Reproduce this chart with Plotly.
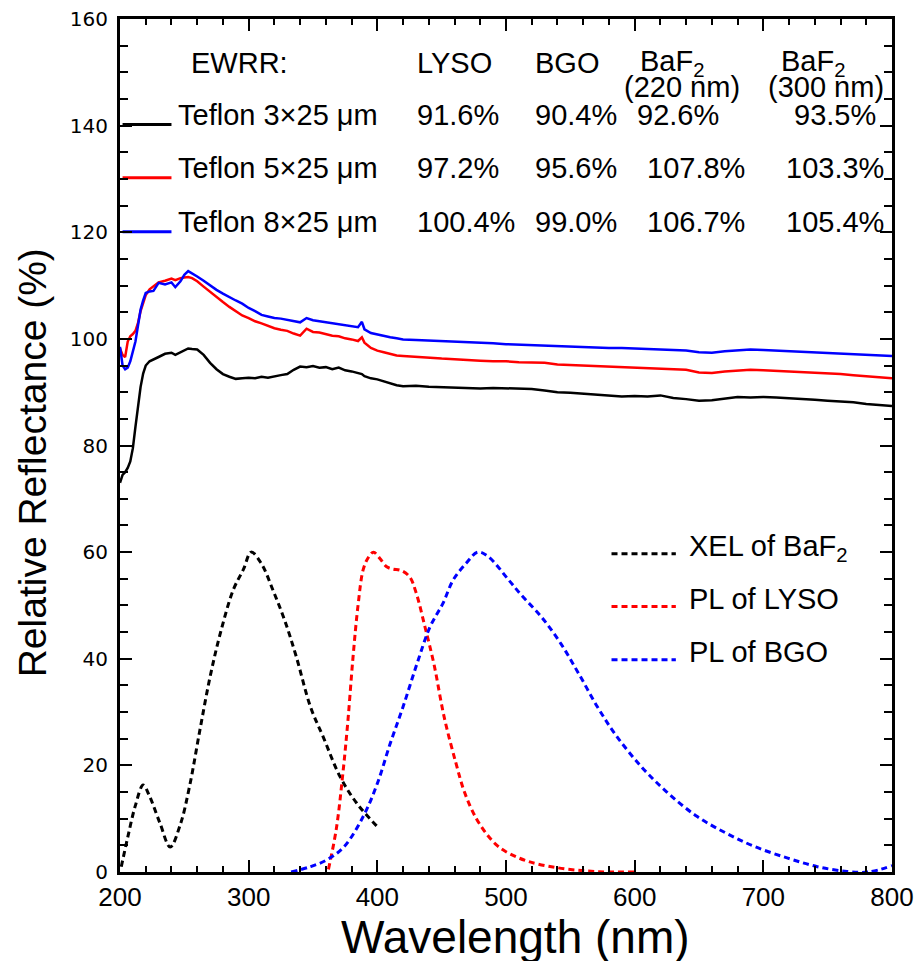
import plotly.graph_objects as go

# ---------------- data ----------------
wl_refl = [200, 202, 204, 206, 208, 210, 212, 214, 216, 218, 220,
           223, 226, 230, 235, 240, 243, 247, 250, 253, 256, 260,
           265, 270, 275, 280, 285, 290, 295, 300, 305, 310, 315, 320, 325, 330,
           335, 340, 345, 350, 355, 360, 365, 370, 375, 380, 385,
           388, 390, 395, 400, 405, 410, 415, 420,
           430, 440, 450, 460, 470, 480, 490, 500, 510, 520, 530, 540, 550, 560,
           570, 580, 590, 600, 610, 620, 630, 640, 650, 660, 670, 680, 690, 700,
           710, 720, 730, 740, 750, 760, 770, 780, 790, 800]

refl_3x25 = [73.0, 74.5, 75.0, 75.8, 77.0, 79.5, 83.5, 87.5, 91.0, 93.5, 95.0,
             95.8, 96.2, 96.6, 97.2, 97.4, 97.0, 97.5, 97.9, 98.2, 98.1, 98.0,
             97.0, 95.5, 94.3, 93.4, 92.9, 92.5, 92.6, 92.7, 92.6, 92.9, 92.7, 93.0, 93.2, 93.4,
             94.2, 94.8, 94.7, 94.9, 94.6, 94.7, 94.3, 94.6, 94.1, 93.9, 93.6,
             93.4, 93.0, 92.6, 92.4, 92.0, 91.7, 91.3, 91.1,
             91.2, 91.0, 90.9, 90.9, 90.8, 90.7, 90.8, 90.7, 90.6, 90.6, 90.3, 90.0, 89.9, 89.7,
             89.5, 89.4, 89.2, 89.3, 89.2, 89.4, 88.9, 88.7, 88.4, 88.5, 88.8, 89.1, 89.0, 89.1,
             89.0, 88.9, 88.8, 88.6, 88.4, 88.3, 88.1, 87.8, 87.6, 87.4]

refl_5x25 = [98.2, 97.0, 96.6, 99.5, 100.5, 100.9, 101.5, 103.0, 105.2, 106.8, 108.2,
             109.3, 109.8, 110.6, 110.9, 111.3, 111.0, 111.4, 111.5, 111.6, 111.4, 110.8,
             109.8, 108.8, 107.8, 106.9, 106.0, 105.2, 104.4, 103.9, 103.3, 102.9, 102.4, 102.0, 101.7, 101.5,
             101.0, 100.6, 101.9, 101.3, 101.2, 100.9, 100.6, 100.5, 100.1, 99.9, 99.6,
             100.3, 99.3, 98.3, 97.8, 97.5, 97.2, 96.9, 96.8,
             96.6, 96.4, 96.3, 96.2, 96.0, 95.9, 95.8, 95.8, 95.6, 95.6, 95.5, 95.2, 95.1, 95.0,
             94.9, 94.8, 94.8, 94.7, 94.6, 94.5, 94.4, 94.2, 93.7, 93.6, 93.9, 94.1, 94.2, 94.1,
             94.0, 93.9, 93.8, 93.6, 93.5, 93.4, 93.2, 93.0, 92.8, 92.6]

refl_8x25 = [98.5, 95.0, 94.3, 94.6, 95.8, 97.8, 99.5, 102.5, 105.5, 107.2, 108.6,
             108.9, 109.0, 110.5, 110.2, 110.6, 109.7, 110.8, 112.0, 112.7, 112.3, 111.7,
             110.9, 110.0, 109.2, 108.5, 107.8, 107.2, 106.6, 105.8, 105.2, 104.5, 104.2, 103.9, 103.8, 103.6,
             103.4, 103.1, 103.9, 103.5, 103.3, 103.1, 103.0, 102.8, 102.6, 102.4, 102.2,
             103.2, 101.8, 101.1, 100.8, 100.5, 100.3, 100.1, 99.9,
             99.8, 99.7, 99.6, 99.5, 99.5, 99.3, 99.2, 99.0, 98.9, 98.8, 98.8, 98.7, 98.6, 98.5,
             98.4, 98.3, 98.3, 98.2, 98.1, 98.0, 97.9, 97.8, 97.5, 97.4, 97.7, 97.9, 98.0, 97.9,
             97.8, 97.6, 97.5, 97.4, 97.3, 97.2, 97.1, 97.0, 96.9, 96.8]

wl_xel_baf2 = [201, 206, 212, 218, 223, 231, 239, 247, 254, 262, 270, 278, 288, 296,
               302, 310, 319, 328, 337, 348, 358, 371, 384, 400]
xel_baf2 = [1.0, 6.5, 12.5, 16.3, 14.2, 9.2, 4.7, 9.0, 16.0, 26.5, 36.6, 44.8, 52.9, 56.8,
            60.0, 57.8, 52.8, 47.2, 40.4, 31.0, 25.3, 17.9, 12.9, 8.5]

wl_pl_lyso = [362, 368, 373, 377, 381, 385, 389, 393, 397, 402, 407, 412, 418, 425, 430,
              437, 444, 452, 461, 468, 477, 486, 493, 500, 517, 540, 562, 580, 600]
pl_lyso = [0.5, 7.9, 18.0, 28.0, 40.0, 50.0, 56.7, 59.0, 60.0, 58.8, 57.3, 56.8, 56.6, 55.4, 52.5,
           46.0, 39.0, 29.0, 20.5, 14.8, 10.0, 6.8, 5.0, 3.8, 2.0, 0.8, 0.2, 0.0, 0.0]

wl_pl_bgo = [333, 348, 361, 374, 389, 400, 410, 420, 431, 441, 451, 459, 469, 478, 486,
             502, 511, 528, 543, 557, 571, 585, 605, 625, 648, 671, 693, 719, 742, 765, 782, 800]
pl_bgo = [0.0, 1.0, 2.3, 4.7, 10.4, 16.6, 24.1, 31.0, 39.2, 46.0, 50.4, 54.8, 57.9, 60.0, 59.2,
          54.8, 52.2, 47.7, 42.7, 37.0, 31.0, 25.8, 19.8, 15.0, 10.5, 7.3, 4.8, 2.6, 1.0, 0.1, 0.0, 1.2]

# table (EWRR) text
ewrr_cols = ["LYSO", "BGO", "BaF<sub>2</sub>", "BaF<sub>2</sub>"]
ewrr_sub = ["(220 nm)", "(300 nm)"]
wrap_labels = ["Teflon 3×25 μm", "Teflon 5×25 μm", "Teflon 8×25 μm"]
ewrr_lyso = ["91.6%", "97.2%", "100.4%"]
ewrr_bgo = ["90.4%", "95.6%", "99.0%"]
ewrr_baf2_220 = ["92.6%", "107.8%", "106.7%"]
ewrr_baf2_300 = ["93.5%", "103.3%", "105.4%"]
emission_labels = ["XEL of BaF<sub>2</sub>", "PL of LYSO", "PL of BGO"]

x_ticks = [200, 300, 400, 500, 600, 700, 800]
y_ticks = [0, 20, 40, 60, 80, 100, 120, 140, 160]

# ---------------- figure ----------------
colors = ["#000000", "#ff0000", "#0000ff"]
fig = go.Figure()

for yv, c, nm in zip([refl_3x25, refl_5x25, refl_8x25], colors, wrap_labels):
    fig.add_trace(go.Scatter(x=wl_refl, y=yv, mode="lines", name=nm,
                             line=dict(color=c, width=2.5), showlegend=False))

for xv, yv, c, nm in zip([wl_xel_baf2, wl_pl_lyso, wl_pl_bgo],
                         [xel_baf2, pl_lyso, pl_bgo], colors, emission_labels):
    fig.add_trace(go.Scatter(x=xv, y=yv, mode="lines", name=nm,
                             line=dict(color=c, width=3, dash="6px,4px"),
                             line_shape="spline", showlegend=False))

# table key lines
key_x = [202, 240]
key_y = [140.2, 130.2, 120.1]
for ky, c in zip(key_y, colors):
    fig.add_trace(go.Scatter(x=key_x, y=[ky, ky], mode="lines", showlegend=False,
                             line=dict(color=c, width=3), hoverinfo="skip"))

# emission legend lines
em_key_x = [582, 632]
em_key_y = [59.7, 49.8, 39.8]
for ky, c in zip(em_key_y, colors):
    fig.add_trace(go.Scatter(x=em_key_x, y=[ky, ky], mode="lines", showlegend=False,
                             line=dict(color=c, width=3, dash="6px,4px"), hoverinfo="skip"))

TF = dict(family="Liberation Sans, Arial, sans-serif", size=29, color="black")
ann = []
def add(x, y, t, **kw):
    d = dict(x=x, y=y, text=t, xref="x", yref="y", showarrow=False,
             xanchor="left", yanchor="middle", font=TF)
    d.update(kw)
    ann.append(d)

hy = 151.8
add(253.5, hy, "EWRR:")
add(429.0, hy, ewrr_cols[0])
add(520.7, hy, ewrr_cols[1])
add(602.3, hy, ewrr_cols[2])
add(711.9, hy, ewrr_cols[3])
add(589.9, 147.2, ewrr_sub[0])
add(701.8, 147.2, ewrr_sub[1])

row_y = [142.0, 132.0, 121.9]
col3_x = [600.0, 607.8, 607.8]
col4_x = [722.0, 715.8, 715.8]
for i in range(3):
    add(243.3, row_y[i], wrap_labels[i])
    add(429.0, row_y[i], ewrr_lyso[i])
    add(520.7, row_y[i], ewrr_bgo[i])
    add(col3_x[i], row_y[i], ewrr_baf2_220[i])
    add(col4_x[i], row_y[i], ewrr_baf2_300[i])

em_text_y = [60.7, 51.2, 41.2]
for i in range(3):
    add(641.0, em_text_y[i], emission_labels[i])

# axis titles as annotations
ann.append(dict(x=-0.113, y=0.48, xref="paper", yref="paper", showarrow=False,
                text="Relative Reflectance (%)", textangle=-90,
                xanchor="center", yanchor="middle",
                font=dict(family="Liberation Sans, Arial, sans-serif", size=39, color="black")))
ann.append(dict(x=0.512, y=-0.076, xref="paper", yref="paper", showarrow=False,
                text="Wavelength (nm)", xanchor="center", yanchor="middle",
                font=dict(family="Liberation Sans, Arial, sans-serif", size=46, color="black")))

fig.update_layout(
    width=915, height=961, autosize=False,
    margin=dict(l=120, r=23, t=19, b=89, autoexpand=False),
    plot_bgcolor="white", paper_bgcolor="white",
    annotations=ann,
    showlegend=False,
)
fig.update_xaxes(range=[200, 800], tickvals=x_ticks, ticktext=[str(v) for v in x_ticks],
                 ticks="inside", ticklen=12, tickwidth=2, tickcolor="black",
                 minor=dict(dtick=20, ticks="inside", ticklen=6, tickwidth=2, tickcolor="black"),
                 showline=True, linewidth=3, linecolor="black", mirror="allticks",
                 showgrid=False, zeroline=False, automargin=False,
                 tickfont=dict(family="Liberation Sans, Arial, sans-serif",
                               size=26, color="black"))
fig.update_yaxes(range=[0, 160], tickvals=y_ticks, ticktext=[str(v) for v in y_ticks],
                 ticks="inside", ticklen=12, tickwidth=2, tickcolor="black",
                 minor=dict(dtick=5, ticks="inside", ticklen=8, tickwidth=2, tickcolor="black"),
                 showline=True, linewidth=3, linecolor="black", mirror="allticks",
                 showgrid=False, zeroline=False, ticklabelstandoff=5, automargin=False,
                 tickfont=dict(family="DejaVu Sans, Verdana, sans-serif", size=20, color="black"))

fig.write_html("out.html", config={"displayModeBar": False},
               post_script="document.body.style.margin='0px';document.body.style.overflow='hidden';")
